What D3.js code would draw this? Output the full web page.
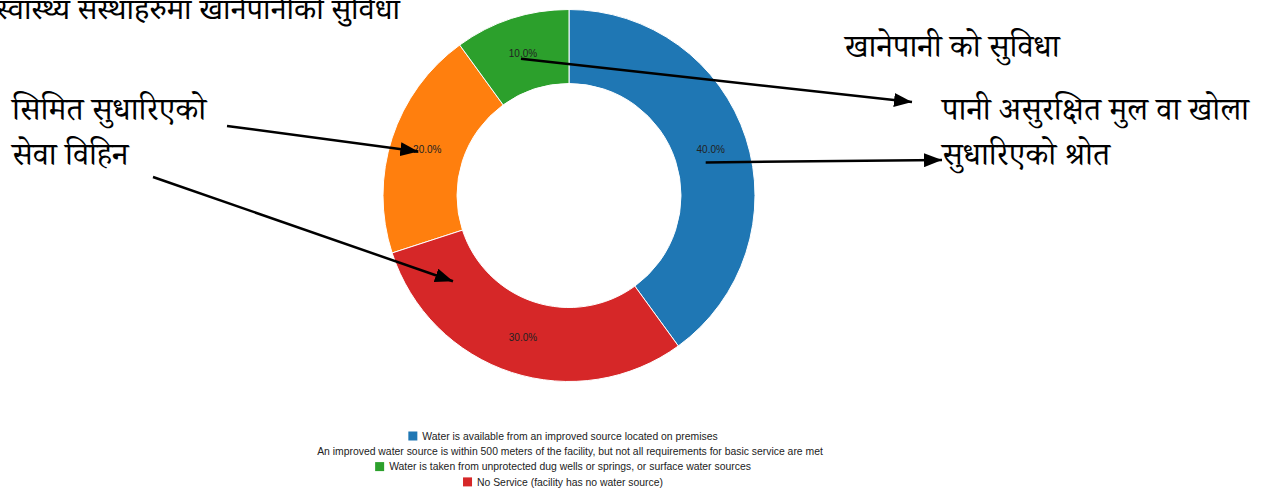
<!DOCTYPE html>
<html>
<head>
<meta charset="utf-8">
<script src="https://d3js.org/d3.v7.min.js"></script>
<style>
  body { margin: 0; background: #fff; }
  svg { display: block; }
</style>
</head>
<body>
<div id="chart"></div>
<script>
// chart data
var categories = [
    "Water is available from an improved source located on premises",
    "An improved water source is within 500 meters of the facility, but not all requirements for basic service are met",
    "Water is taken from unprotected dug wells or springs, or surface water sources",
    "No Service (facility has no water source)"
];
var values = [40, 20, 10, 30];
var colors = ["#1f77b4", "#ff7f0e", "#2ca02c", "#d62728"];

// hand-written notes around the chart
var titleText = "स्वास्थ्य संस्थाहरुमा खानेपानीको सुविधा";
var notes = [
    { text: "खानेपानी को सुविधा", x: 845, y: 57 },
    { text: "पानी असुरक्षित मुल वा खोला", x: 942, y: 120 },
    { text: "सुधारिएको श्रोत", x: 942, y: 165 },
    { text: "सिमित सुधारिएको", x: 12, y: 120 },
    { text: "सेवा विहिन", x: 12, y: 165 }
];

var width = 1263, height = 489;
var cx = 569, cy = 195.5;
var outerR = 186, innerR = 112;
var devFont = "'Noto Serif Devanagari', 'Lohit Devanagari', 'Noto Sans Devanagari', 'Mangal', serif";

var data = categories.map(function(c, i) {
    return { label: c, value: values[i], color: colors[i] };
});

var svg = d3.select("#chart")
    .append("svg")
    .attr("width", width)
    .attr("height", height);

var defs = svg.append("defs");
defs.append("marker")
    .attr("id", "head")
    .attr("viewBox", "0 0 18 14")
    .attr("refX", 18)
    .attr("refY", 7)
    .attr("markerWidth", 18)
    .attr("markerHeight", 14)
    .attr("markerUnits", "userSpaceOnUse")
    .attr("orient", "auto")
    .append("path")
    .attr("d", "M0,0 L18,7 L0,14 Z")
    .attr("fill", "#000");

// title, running off the left edge like the source
svg.append("text")
    .attr("x", 400)
    .attr("y", 19)
    .attr("text-anchor", "end")
    .style("font-family", "'Noto Sans Devanagari', 'Lohit Devanagari', sans-serif")
    .style("font-size", "29px")
    .attr("fill", "#000")
    .text(titleText);

// donut
var total = d3.sum(values);
var pie = d3.pie().value(function(d) { return d.value; });
var arc = d3.arc().innerRadius(innerR).outerRadius(outerR);
var arcs = pie(data);

var g = svg.append("g")
    .attr("transform", "translate(" + cx + "," + cy + ")");

g.selectAll(".slice")
    .data(arcs)
    .enter()
    .append("path")
    .attr("class", "slice")
    .attr("d", arc)
    .attr("fill", function(d) { return d.data.color; })
    .attr("stroke", "#fff")
    .attr("stroke-width", 1);

g.selectAll(".pct")
    .data(arcs)
    .enter()
    .append("text")
    .attr("class", "pct")
    .attr("transform", function(d) { return "translate(" + arc.centroid(d) + ")"; })
    .attr("dy", "0.35em")
    .attr("text-anchor", "middle")
    .style("font-family", "'Liberation Sans', Arial, sans-serif")
    .style("font-size", "10px")
    .attr("fill", "#222")
    .text(function(d) { return (d.value / total * 100).toFixed(1) + "%"; });

// annotation texts
svg.selectAll(".note")
    .data(notes)
    .enter()
    .append("text")
    .attr("class", "note")
    .attr("x", function(d) { return d.x; })
    .attr("y", function(d) { return d.y; })
    .style("font-family", devFont)
    .style("font-size", "32px")
    .attr("fill", "#000")
    .text(function(d) { return d.text; });

// arrows: one end tied to a slice centroid, the other near a note
function centroidOf(label) {
    var a = arcs.filter(function(d) { return d.data.label === label; })[0];
    var c = arc.centroid(a);
    return [cx + c[0], cy + c[1]];
}
var cBlue = centroidOf(categories[0]);
var cOrange = centroidOf(categories[1]);
var cGreen = centroidOf(categories[2]);
var cRed = centroidOf(categories[3]);

var arrows = [
    { x1: cGreen[0] - 2, y1: cGreen[1] + 5, x2: 912, y2: 102 },
    { x1: cBlue[0] - 5, y1: cBlue[1] + 13, x2: 942, y2: 160 },
    { x1: 227, y1: 126, x2: cOrange[0] - 9, y2: cOrange[1] + 2 },
    { x1: 153, y1: 177, x2: cRed[0] - 70, y2: cRed[1] - 56 }
];

svg.selectAll(".arrow")
    .data(arrows)
    .enter()
    .append("line")
    .attr("class", "arrow")
    .attr("x1", function(d) { return d.x1; })
    .attr("y1", function(d) { return d.y1; })
    .attr("x2", function(d) { return d.x2; })
    .attr("y2", function(d) { return d.y2; })
    .attr("stroke", "#000")
    .attr("stroke-width", 2.5)
    .attr("marker-end", "url(#head)");

// legend, one item per line, centred
var legendY = 436, legendStep = 15.3, legendCx = 563;
var legend = svg.append("g").attr("class", "legend");
data.forEach(function(d, i) {
    var item = legend.append("g");
    var t = item.append("text")
        .attr("y", legendY + i * legendStep)
        .attr("dy", "0.35em")
        .style("font-family", "'Liberation Sans', Arial, sans-serif")
        .style("font-size", "10.4px")
        .attr("fill", "#222")
        .text(d.label);
    var w = t.node().getComputedTextLength();
    var full = 9 + 5 + w;
    var x0 = legendCx - full / 2;
    t.attr("x", x0 + 14);
    // the second swatch is not visible in the source
    if (i !== 1) {
        item.append("rect")
            .attr("x", x0)
            .attr("y", legendY + i * legendStep - 4.5)
            .attr("width", 9)
            .attr("height", 9)
            .attr("fill", d.color);
    }
});
</script>
</body>
</html>
